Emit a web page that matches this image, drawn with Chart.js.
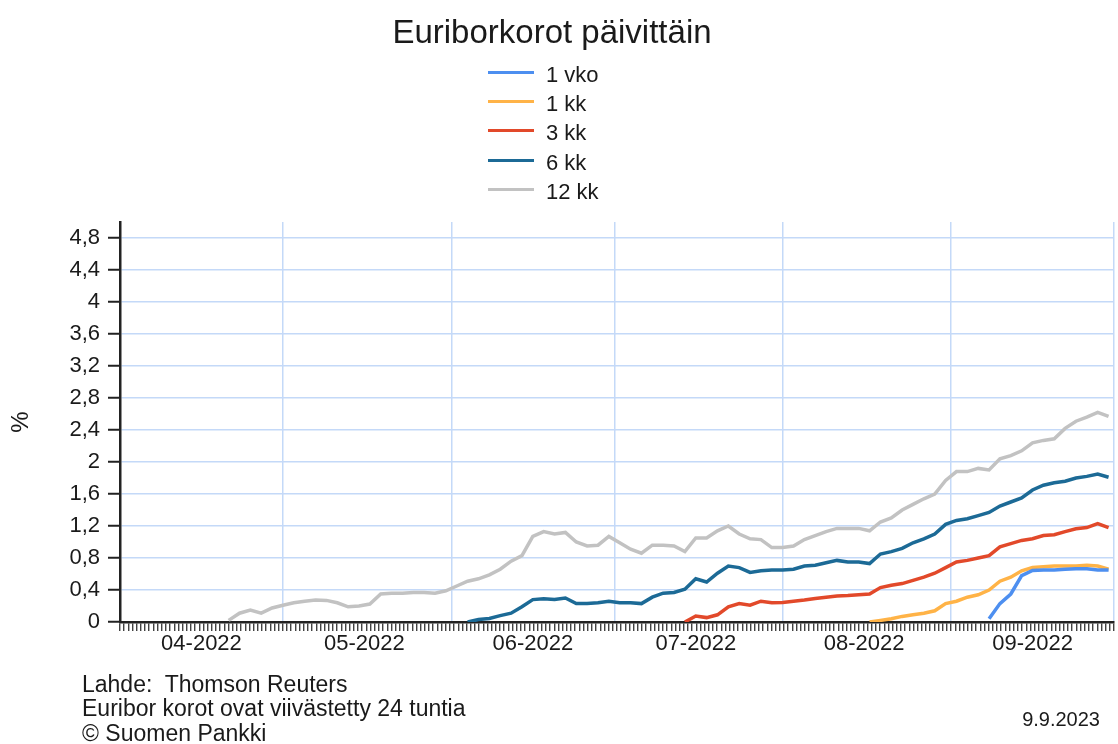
<!DOCTYPE html>
<html>
<head>
<meta charset="utf-8">
<script src="https://cdn.jsdelivr.net/npm/chart.js@4/dist/chart.umd.min.js"></script>
<style>
  html, body { margin:0; padding:0; background:#fff; }
  #wrap { position:relative; width:1118px; height:744px; overflow:hidden; font-family:"Liberation Sans", Arial, sans-serif; color:#1a1a1a; }
  #c { position:absolute; left:0; top:0; }
  #title { position:absolute; left:0; width:1104px; top:15px; text-align:center; font-size:33px; line-height:33px; }
  #legend { position:absolute; left:488px; top:59.5px; }
  .row { display:flex; align-items:center; height:29.4px; font-size:22px; line-height:29.4px; }
  .swatch { width:46px; height:3px; margin-right:12px; position:relative; top:-2px; }
  #footer { position:absolute; left:82px; top:671.5px; font-size:23px; line-height:24.5px; white-space:pre; }
  #date { position:absolute; right:18px; top:707px; font-size:20px; line-height:24px; }
</style>
</head>
<body>
<div id="wrap">
  <canvas id="c" width="1118" height="744"></canvas>
  <div id="title">Euriborkorot päivittäin</div>
  <div id="legend"></div>
  <div id="footer">Lahde:  Thomson Reuters
Euribor korot ovat viivästetty 24 tuntia
© Suomen Pankki</div>
  <div id="date">9.9.2023</div>
</div>
<script>
// Sample positions: days since 1.4.2022
const days = [0,2,4,6,8,10,12,14,16,18,20,22,24,26,28,30,32,34,36,38,40,42,44,46,48,50,52,54,56,58,60,62,64,66,68,70,72,74,76,78,80,82,84,86,88,90,92,94,96,98,100,102,104,106,108,110,112,114,116,118,120,122,124,126,128,130,132,134,136,138,140,142,144,146,148,150,152,154,156,158,160,162,164,166,168,170,172,174,176,178,180,182];

// Month gridlines (day offsets) and month labels
const monthEdges = [0,30,61,91,122,153,183];
const monthLabelDays = [15,45,76,106,137,168];
const monthLabels = ['04-2022','05-2022','06-2022','07-2022','08-2022','09-2022'];

// Series values (%), null = below axis (not shown)
const seriesNames = ['1 vko','1 kk','3 kk','6 kk','12 kk'];
const seriesColors = ['#4d8ff0','#ffb347','#e2492a','#1c6a96','#c2c2c2'];

const v12kk = [null,null,null,null,null,null,null,null,null,null,
  0.02,0.11,0.15,0.11,0.175,0.21,0.24,0.26,0.275,0.27,0.24,0.19,0.20,0.225,0.35,0.36,0.36,0.37,0.37,0.36,
  0.39,0.45,0.51,0.54,0.59,0.66,0.76,0.83,1.07,1.13,1.10,1.12,1.00,0.95,0.96,1.07,0.99,0.91,0.86,0.96,
  0.96,0.95,0.88,1.05,1.05,1.14,1.20,1.10,1.04,1.03,0.93,0.93,0.95,1.03,1.08,1.13,1.17,1.17,1.17,1.14,
  1.25,1.30,1.40,1.47,1.54,1.60,1.77,1.88,1.88,1.92,1.90,2.04,2.08,2.14,2.24,2.27,2.29,2.42,2.51,2.56,
  2.62,2.57];

const v6kk = [null,null,null,null,null,null,null,null,null,null,null,null,null,null,null,null,
  null,null,null,null,null,null,null,null,null,null,null,null,null,null,null,null,
  0.0,0.03,0.045,0.08,0.11,0.19,0.28,0.29,0.28,0.30,0.23,0.23,0.24,0.26,0.24,0.24,0.23,0.31,0.36,0.37,
  0.41,0.54,0.50,0.61,0.70,0.68,0.62,0.64,0.65,0.65,0.66,0.70,0.71,0.74,0.77,0.75,0.75,0.73,0.85,0.88,
  0.92,0.99,1.04,1.10,1.22,1.27,1.29,1.33,1.37,1.45,1.50,1.55,1.65,1.71,1.74,1.76,1.80,1.82,1.85,1.81];

const v3kk = [null,null,null,null,null,null,null,null,null,null,null,null,null,null,null,null,null,null,null,null,
  null,null,null,null,null,null,null,null,null,null,null,null,null,null,null,null,null,null,null,null,
  null,null,null,null,null,null,null,null,null,null,null,null,
  0.0,0.075,0.055,0.09,0.19,0.23,0.21,0.26,0.24,0.245,0.26,0.275,0.295,0.31,0.325,0.33,0.34,0.35,0.43,0.46,
  0.48,0.52,0.56,0.61,0.68,0.75,0.77,0.80,0.83,0.94,0.98,1.02,1.04,1.08,1.09,1.13,1.165,1.18,1.23,1.18];

const v1kk = [null,null,null,null,null,null,null,null,null,null,null,null,null,null,null,null,null,null,null,null,
  null,null,null,null,null,null,null,null,null,null,null,null,null,null,null,null,null,null,null,null,
  null,null,null,null,null,null,null,null,null,null,null,null,null,null,null,null,null,null,null,null,
  null,null,null,null,null,null,null,null,null,
  0.0,0.02,0.04,0.07,0.09,0.11,0.14,0.23,0.26,0.31,0.34,0.40,0.51,0.56,0.64,0.68,0.69,0.70,0.70,0.70,
  0.71,0.70,0.66];

const v1vko = [null,null,null,null,null,null,null,null,null,null,null,null,null,null,null,null,null,null,null,null,
  null,null,null,null,null,null,null,null,null,null,null,null,null,null,null,null,null,null,null,null,
  null,null,null,null,null,null,null,null,null,null,null,null,null,null,null,null,null,null,null,null,
  null,null,null,null,null,null,null,null,null,null,null,null,null,null,null,null,null,null,null,null,
  0.04,0.23,0.35,0.58,0.645,0.65,0.65,0.66,0.665,0.665,0.65,0.65];

const yMin = 0, yMax = 5, yStep = 0.4;
const xMax = 183;
const minorTickCount = 238;

const seriesValues = [v1vko, v1kk, v3kk, v6kk, v12kk];

function toPoints(vals) {
  const pts = [];
  vals.forEach((v, i) => { if (v !== null) pts.push({x: days[i], y: v}); });
  return pts;
}

Chart.defaults.font.family = '"Liberation Sans", Arial, sans-serif';
Chart.defaults.color = '#1a1a1a';

const GRID = '#c4d9f8';
const DARK = '#222222';
const NONE = 'rgba(0,0,0,0)';

const chart = new Chart(document.getElementById('c'), {
  type: 'line',
  data: {
    datasets: seriesNames.map((name, i) => ({
      label: name,
      data: toPoints(seriesValues[i]),
      borderColor: seriesColors[i],
      backgroundColor: seriesColors[i],
      borderWidth: 3.5,
      pointRadius: 0,
      tension: 0,
      fill: false
    }))
  },
  options: {
    responsive: false,
    animation: false,
    layout: { padding: { left: 0, right: 4, top: 222, bottom: 78 } },
    plugins: { legend: { display: false }, title: { display: false }, tooltip: { enabled: false } },
    scales: {
      x: {
        type: 'linear',
        min: 0,
        max: xMax,
        afterBuildTicks: (scale) => {
          const t = [];
          for (let i = 0; i <= minorTickCount; i++) t.push({ value: i * xMax / minorTickCount, kind: 'minor' });
          monthEdges.forEach(v => t.push({ value: v, kind: 'edge' }));
          monthLabelDays.forEach((v, i) => t.push({ value: v, kind: 'label', text: monthLabels[i] }));
          t.sort((a, b) => a.value - b.value);
          scale.ticks = t;
        },
        afterFit: (scale) => { scale.height = 44; },
        ticks: {
          autoSkip: false,
          maxRotation: 0,
          minRotation: 0,
          padding: 0,
          font: { size: 22 },
          color: '#1a1a1a',
          callback: function(value, index, ticks) {
            const tk = ticks[index];
            return tk && tk.kind === 'label' ? tk.text : '';
          }
        },
        grid: {
          color: (ctx) => (ctx.tick && ctx.tick.kind === 'edge') ? GRID : NONE,
          lineWidth: 1.5,
          tickColor: (ctx) => (ctx.tick && ctx.tick.kind === 'minor') ? DARK : NONE,
          tickLength: 9,
          tickWidth: 1.2
        },
        border: { color: DARK, width: 2.5 }
      },
      y: {
        type: 'linear',
        min: yMin,
        max: yMax,
        afterFit: (scale) => { scale.width = 120; },
        ticks: {
          stepSize: yStep,
          includeBounds: false,
          padding: 8,
          font: { size: 22 },
          color: '#1a1a1a',
          callback: (v) => String(Number(v.toFixed(1))).replace('.', ',')
        },
        grid: {
          color: GRID,
          lineWidth: 1.5,
          tickColor: DARK,
          tickLength: 12,
          tickWidth: 2
        },
        border: { color: DARK, width: 2.5 },
        title: { display: true, text: '%', font: { size: 24 }, color: '#1a1a1a', padding: { top: 7, bottom: 0 } }
      }
    }
  }
});

// HTML legend from the chart's datasets
const legend = document.getElementById('legend');
chart.data.datasets.forEach(ds => {
  const row = document.createElement('div');
  row.className = 'row';
  const sw = document.createElement('span');
  sw.className = 'swatch';
  sw.style.background = ds.borderColor;
  const tx = document.createElement('span');
  tx.textContent = ds.label;
  row.appendChild(sw); row.appendChild(tx);
  legend.appendChild(row);
});
</script>
</body>
</html>
